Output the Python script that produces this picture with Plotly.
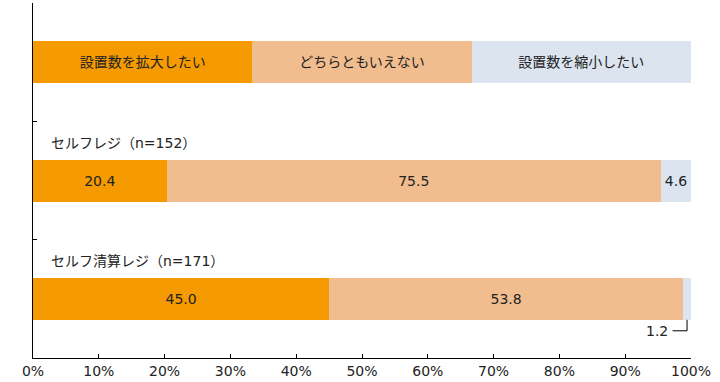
import plotly.graph_objects as go

# ---- data ----
legend_labels = ["設置数を拡大したい", "どちらともいえない", "設置数を縮小したい"]
legend_shares = [100 / 3, 100 / 3, 100 / 3]
categories = ["セルフレジ（n=152）", "セルフ清算レジ（n=171）"]
expand = [20.4, 45.0]
neutral = [75.5, 53.8]
shrink = [4.6, 1.2]
x_ticks = [0, 10, 20, 30, 40, 50, 60, 70, 80, 90, 100]
x_tick_labels = [f"{v}%" for v in x_ticks]

colors = ["#F59A00", "#F2BD8E", "#DCE4EF"]
FONT = "DejaVu Sans, Noto Sans CJK JP"
TXT = "#222222"
FS = 14

rows = [1, 2]
BW = 0.355

fig = go.Figure()
series = [expand, neutral, shrink]
for i, (lab, vals) in enumerate(zip(legend_labels, series)):
    ys = [0] + rows
    xs = [legend_shares[i]] + list(vals)
    texts = [lab] + [f"{v:.1f}" for v in vals]
    if i == 2:
        texts[2] = ""  # 1.2 labelled outside
    fig.add_trace(go.Bar(
        x=xs, y=ys, orientation="h", width=BW,
        marker=dict(color=colors[i], line=dict(width=0)),
        text=texts, textposition="inside", insidetextanchor="middle",
        textangle=0, textfont=dict(family=FONT, size=FS, color=TXT),
        hoverinfo="skip", showlegend=False,
    ))

for r, c in zip(rows, categories):
    fig.add_annotation(x=0, y=r - 0.32, xref="x", yref="y", text=c,
                       showarrow=False, xanchor="left", yanchor="middle",
                       xshift=16, font=dict(family=FONT, size=FS, color=TXT))

last_x = 100 - shrink[1] / 2
fig.add_annotation(x=last_x, y=rows[1] + 0.27, xref="x", yref="y",
                   text=f"{shrink[1]:.1f}", showarrow=False, xanchor="right",
                   yanchor="middle", xshift=-17,
                   font=dict(family=FONT, size=FS, color=TXT))
fig.add_shape(type="line", xref="x", yref="y",
              x0=last_x, x1=last_x, y0=rows[1] + BW / 2, y1=rows[1] + 0.27,
              line=dict(color="#000000", width=1))
fig.add_shape(type="line", xref="x", yref="y",
              x0=last_x - 2.2, x1=last_x, y0=rows[1] + 0.27, y1=rows[1] + 0.27,
              line=dict(color="#000000", width=1))

fig.update_layout(
    barmode="stack", barnorm="percent",
    width=720, height=382,
    margin=dict(l=33, r=29, t=3, b=24),
    plot_bgcolor="white", paper_bgcolor="white",
    font=dict(family=FONT, size=FS, color=TXT),
    uniformtext=dict(minsize=FS, mode="show"),
    xaxis=dict(range=[0, 100], tickvals=x_ticks, ticktext=x_tick_labels,
               showgrid=False, zeroline=False, showline=True,
               linecolor="#000000", linewidth=1, ticks="inside", ticklen=4,
               tickcolor="#000000", tickfont=dict(family=FONT, size=FS, color=TXT)),
    yaxis=dict(range=[2.5, -0.5], tickvals=[-0.5, 0.5, 1.5, 2.5],
               showticklabels=False, showgrid=False, zeroline=False,
               showline=True, linecolor="#000000", linewidth=1,
               ticks="inside", ticklen=4, tickcolor="#000000"),
)

fig.write_html("out.html", config={"displayModeBar": False},
               post_script="document.body.style.margin='0';document.body.style.overflow='hidden';")
